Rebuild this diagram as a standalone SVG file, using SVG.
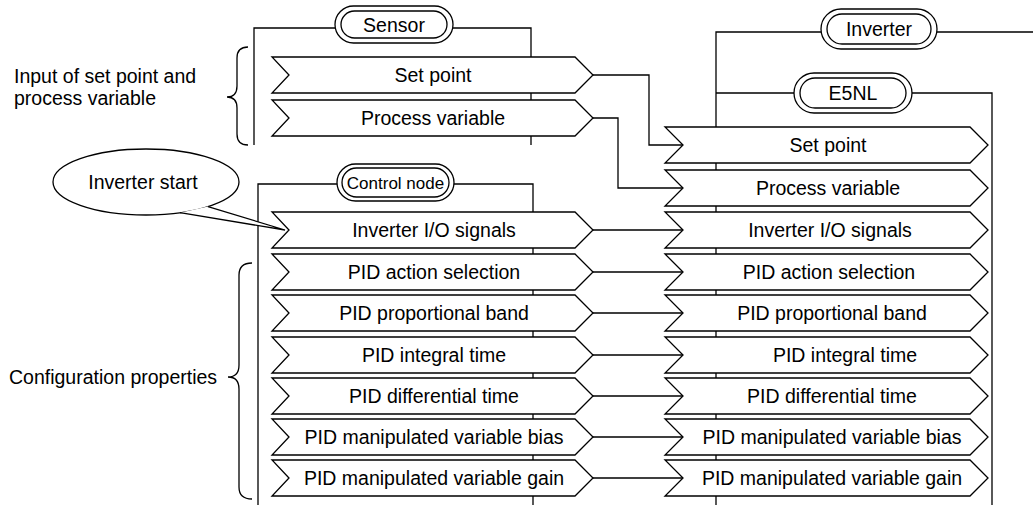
<svg xmlns="http://www.w3.org/2000/svg" width="1033" height="505" viewBox="0 0 1033 505">
<style>
.ln{fill:none;stroke:#000;stroke-width:1.3}
.ar{fill:#fff;stroke:#000;stroke-width:1.3;stroke-linejoin:miter}
.po{fill:#fff;stroke:#000;stroke-width:1.3}
.pi{fill:none;stroke:#000;stroke-width:1.3}
text{font-family:"Liberation Sans",Arial,sans-serif;font-size:19.5px;fill:#000}
.c{text-anchor:middle}
.sm{font-size:17px}
</style>
<defs>
<path id="la" d="M0,0 H303 L321,18 L303,36 H0 L17,18 Z"/>
<path id="ra" d="M0,0 H305 L323,18 L305,36 H0 L18,18 Z"/>
</defs>
<rect width="1033" height="505" fill="#fff"/>
<g id="frames">
<path class="ln" d="M254,145 V28 H335 M453,28 H531 V145"/>
<path class="ln" d="M258,505 V184 H337 M454,184 H533 V505"/>
<path class="ln" d="M716,505 V32 H821 M937,32 H1033"/>
<path class="ln" d="M716,93 H794 M912,93 H992 V505"/>
</g>
<g id="connectors">
<path class="ln" d="M593,75 H649 V145 H683"/>
<path class="ln" d="M593,118 H618 V188 H683"/>
<path class="ln" d="M593,230 H683 M593,272 H683 M593,313 H683 M593,355 H683 M593,396 H683 M593,437 H683 M593,478 H683"/>
</g>
<g id="sensor">
<rect class="po" x="335" y="6" width="118" height="37" rx="18.5"/>
<rect class="pi" x="341" y="11" width="106" height="27" rx="13.5"/>
<text class="c" x="394" y="32">Sensor</text>
</g>
<g id="control-node">
<rect class="po" x="337" y="164" width="117" height="37" rx="18.5"/>
<rect class="pi" x="342" y="168" width="107" height="29" rx="14.5"/>
<text class="c sm" x="395.5" y="189">Control node</text>
</g>
<g id="inverter">
<rect class="po" x="821" y="9" width="116" height="40" rx="20"/>
<rect class="pi" x="827" y="14" width="104" height="30" rx="15"/>
<text class="c" x="879" y="36">Inverter</text>
</g>
<g id="e5nl">
<rect class="po" x="794" y="73" width="118" height="40" rx="20"/>
<rect class="pi" x="800" y="78" width="106" height="30" rx="15"/>
<text class="c" x="853" y="100">E5NL</text>
</g>
<g id="sensor-set-point"><use href="#la" class="ar" x="272" y="57"/><text class="c" x="433" y="82">Set point</text></g>
<g id="sensor-process-variable"><use href="#la" class="ar" x="272" y="100"/><text class="c" x="433" y="125">Process variable</text></g>
<g id="cn-inverter-io"><use href="#la" class="ar" x="272" y="212"/><text class="c" x="434" y="237">Inverter I/O signals</text></g>
<g id="cn-pid-action"><use href="#la" class="ar" x="272" y="254"/><text class="c" x="434" y="279">PID action selection</text></g>
<g id="cn-pid-band"><use href="#la" class="ar" x="272" y="295"/><text class="c" x="434" y="320">PID proportional band</text></g>
<g id="cn-pid-integral"><use href="#la" class="ar" x="272" y="337"/><text class="c" x="434" y="362">PID integral time</text></g>
<g id="cn-pid-differential"><use href="#la" class="ar" x="272" y="378"/><text class="c" x="434" y="403">PID differential time</text></g>
<g id="cn-pid-bias"><use href="#la" class="ar" x="272" y="419"/><text class="c" x="434" y="444">PID manipulated variable bias</text></g>
<g id="cn-pid-gain"><use href="#la" class="ar" x="272" y="460"/><text class="c" x="434" y="485">PID manipulated variable gain</text></g>
<g id="e5-set-point"><use href="#ra" class="ar" x="665" y="127"/><text class="c" x="828" y="152">Set point</text></g>
<g id="e5-process-variable"><use href="#ra" class="ar" x="665" y="170"/><text class="c" x="828" y="195">Process variable</text></g>
<g id="e5-inverter-io"><use href="#ra" class="ar" x="665" y="212"/><text class="c" x="830" y="237">Inverter I/O signals</text></g>
<g id="e5-pid-action"><use href="#ra" class="ar" x="665" y="254"/><text class="c" x="829" y="279">PID action selection</text></g>
<g id="e5-pid-band"><use href="#ra" class="ar" x="665" y="295"/><text class="c" x="832" y="320">PID proportional band</text></g>
<g id="e5-pid-integral"><use href="#ra" class="ar" x="665" y="337"/><text class="c" x="845" y="362">PID integral time</text></g>
<g id="e5-pid-differential"><use href="#ra" class="ar" x="665" y="378"/><text class="c" x="832" y="403">PID differential time</text></g>
<g id="e5-pid-bias"><use href="#ra" class="ar" x="665" y="419"/><text class="c" x="832" y="444">PID manipulated variable bias</text></g>
<g id="e5-pid-gain"><use href="#ra" class="ar" x="665" y="460"/><text class="c" x="832" y="485">PID manipulated variable gain</text></g>
<g id="input-brace">
<path class="ln" d="M248,47 Q237,47 237,58 V86 Q237,97 227,97 Q237,97 237,108 V134 Q237,145 248,145"/>
<text x="14" y="83">Input of set point and</text>
<text x="14" y="105">process variable</text>
</g>
<g id="config-brace">
<path class="ln" d="M252,263 Q239,263 239,275 V365 Q239,377 228,377 Q239,377 239,389 V487 Q239,499 252,499"/>
<text x="9" y="384">Configuration properties</text>
</g>
<g id="inverter-start">
<ellipse cx="146" cy="182" rx="93" ry="33" fill="#fff" stroke="#000" stroke-width="1.3"/>
<path d="M180,212.7 L285,230 L208,206.6" fill="#fff" stroke="#000" stroke-width="1.3"/>
<text class="c" x="143" y="189">Inverter start</text>
</g>
</svg>
